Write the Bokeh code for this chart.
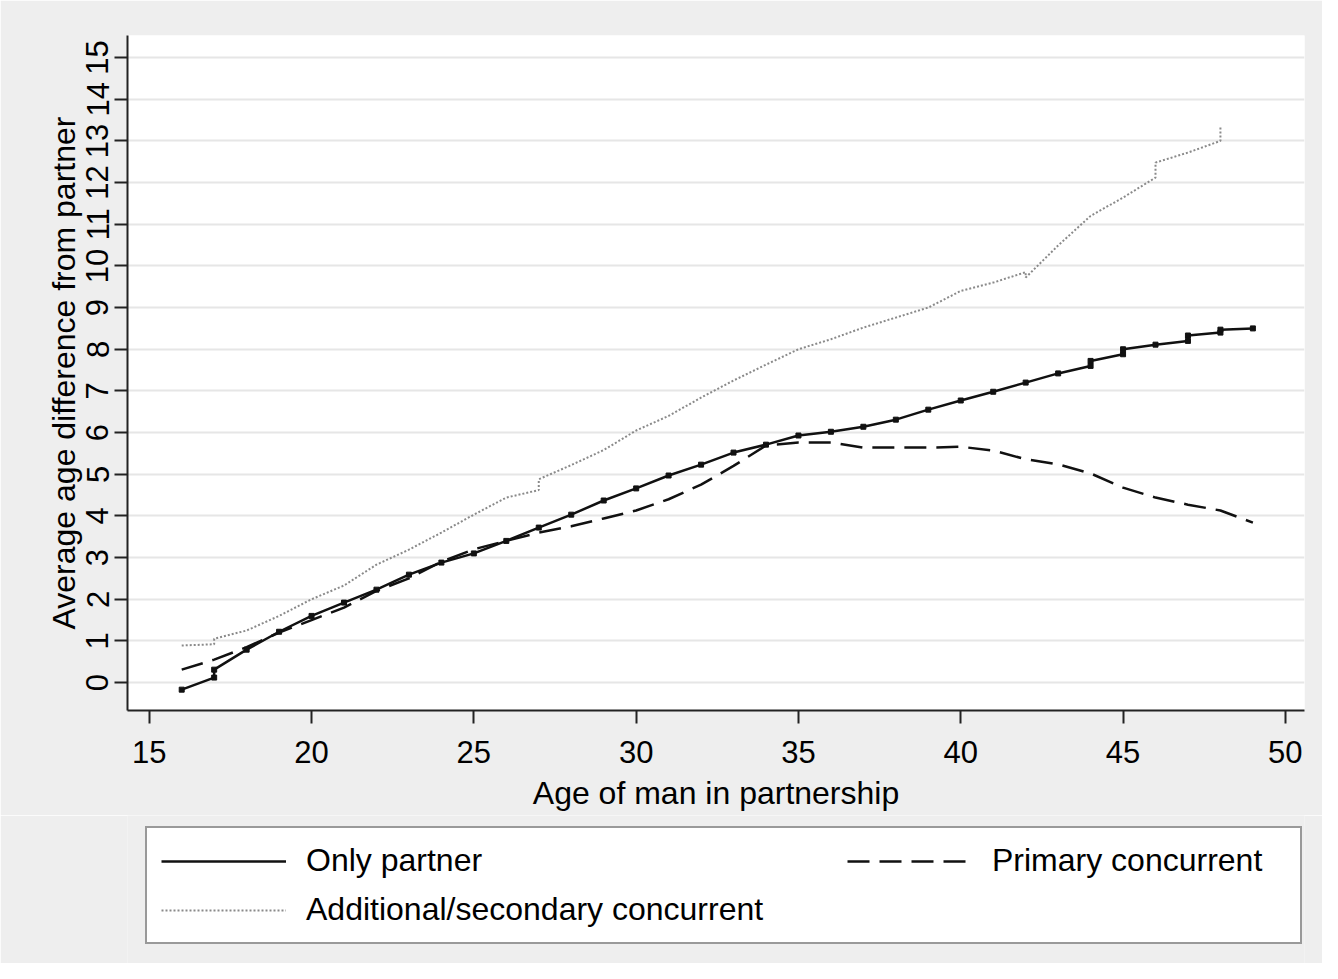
from bokeh.plotting import figure
from bokeh.layouts import column
from bokeh.models import Legend, LegendItem, FixedTicker, Range1d
from bokeh.embed import file_html
from bokeh.resources import INLINE

# ---- data ----
only_x = [16, 17, 17, 18, 19, 20, 21, 22, 23, 24, 25, 26, 27, 28, 29, 30, 31, 32, 33, 34,
          35, 36, 37, 38, 39, 40, 41, 42, 43, 44, 44, 45, 45, 46, 47, 47, 48, 48, 49]
only_y = [-0.17, 0.12, 0.31, 0.79, 1.22, 1.6, 1.92, 2.23, 2.59, 2.88, 3.1, 3.4, 3.72, 4.03,
          4.37, 4.66, 4.97, 5.23, 5.52, 5.71, 5.93, 6.02, 6.14, 6.31, 6.55, 6.77, 6.98, 7.2,
          7.42, 7.6, 7.72, 7.88, 8.0, 8.11, 8.2, 8.33, 8.4, 8.47, 8.5]

prim_x = [16, 17, 18, 19, 20, 21, 22, 23, 24, 25, 26, 27, 28, 29, 30, 31, 32, 33, 34, 35,
          36, 37, 38, 39, 40, 41, 42, 43, 44, 45, 46, 47, 48, 49]
prim_y = [0.31, 0.55, 0.85, 1.2, 1.5, 1.8, 2.2, 2.5, 2.9, 3.2, 3.4, 3.6, 3.75, 3.94, 4.13,
          4.4, 4.75, 5.2, 5.69, 5.76, 5.76, 5.64, 5.64, 5.64, 5.66, 5.57, 5.36, 5.24, 5.02,
          4.68, 4.44, 4.27, 4.13, 3.84]

sec_x = [16, 17, 17, 18, 19, 20, 21, 22, 23, 24, 25, 26, 27, 27, 28, 29, 30, 31, 32, 33,
         34, 35, 36, 37, 38, 39, 40, 41, 42, 42, 43, 44, 45, 46, 46, 47, 48, 48]
sec_y = [0.89, 0.92, 1.05, 1.25, 1.6, 2.0, 2.33, 2.83, 3.19, 3.6, 4.03, 4.44, 4.62, 4.88,
         5.22, 5.58, 6.05, 6.4, 6.84, 7.25, 7.63, 8.0, 8.24, 8.52, 8.76, 9.0, 9.4, 9.6,
         9.85, 9.72, 10.49, 11.2, 11.64, 12.12, 12.48, 12.72, 13.0, 13.37]

x_ticks = [15, 20, 25, 30, 35, 40, 45, 50]
y_ticks = list(range(0, 16))

series_labels = ["Only partner", "Primary concurrent", "Additional/secondary concurrent"]
x_title = "Age of man in partnership"
y_title = "Average age difference from partner"

FONT = "Liberation Sans"
BG = "#eeeeee"

# styles
SEC_STYLE = dict(line_color="#8a8a8a", line_width=2, line_dash="2 2")
PRIM_STYLE = dict(line_color="#111111", line_width=2.5, line_dash="22 10")
ONLY_STYLE = dict(line_color="#111111", line_width=2.5)

p = figure(width=1322, height=815, output_backend="svg", toolbar_location=None,
           x_range=Range1d(14.33, 50.59), y_range=Range1d(-0.67, 15.53),
           min_border_left=127, min_border_right=18, min_border_top=35,
           min_border_bottom=105)

p.outline_line_color = None
p.background_fill_color = "white"
p.border_fill_color = BG
p.xgrid.visible = False
p.ygrid.grid_line_color = "#e6e6e6"
p.ygrid.grid_line_width = 2
p.ygrid.ticker = FixedTicker(ticks=y_ticks)

for ax in (p.xaxis[0], p.yaxis[0]):
    ax.axis_line_color = "#222222"
    ax.axis_line_width = 2
    ax.major_tick_line_color = "#222222"
    ax.major_tick_line_width = 2
    ax.major_tick_out = 13
    ax.major_tick_in = 0
    ax.minor_tick_line_color = None
    ax.major_label_text_font = FONT
    ax.major_label_text_font_size = "31px"
    ax.major_label_text_color = "black"
    ax.axis_label_text_font = FONT
    ax.axis_label_text_font_size = "32px"
    ax.axis_label_text_font_style = "normal"
    ax.axis_label_text_color = "black"

p.xaxis.ticker = FixedTicker(ticks=x_ticks)
p.yaxis.ticker = FixedTicker(ticks=y_ticks)
p.yaxis.major_label_orientation = "vertical"
p.xaxis.axis_label = x_title
p.yaxis.axis_label = y_title
p.xaxis.major_label_standoff = 17
p.xaxis.axis_label_standoff = 9
p.yaxis.major_label_standoff = 6
p.yaxis.axis_label_standoff = 2

p.line(sec_x, sec_y, **SEC_STYLE)
p.line(prim_x, prim_y, **PRIM_STYLE)
p.line(only_x, only_y, **ONLY_STYLE)
p.scatter(only_x, only_y, marker="square", size=5, color="#111111")

# ---- legend strip (separate figure below the chart; its frame aligns with the chart's) ----
lg = figure(width=1322, height=148, output_backend="svg", toolbar_location=None,
            x_range=Range1d(0, 1), y_range=Range1d(0, 1),
            min_border_left=0, min_border_right=0, min_border_top=0, min_border_bottom=0)
lg.axis.visible = False
lg.grid.visible = False
lg.outline_line_color = None
lg.background_fill_color = BG
lg.border_fill_color = BG

# same series drawn in the strip (they fall outside its ranges, so only the keys show)
k_only = lg.line(only_x, only_y, **ONLY_STYLE)
k_prim = lg.line(prim_x, prim_y, **PRIM_STYLE)
k_sec = lg.line(sec_x, sec_y, **SEC_STYLE)

leg1 = Legend(items=[LegendItem(label=series_labels[0], renderers=[k_only]),
                     LegendItem(label=series_labels[2], renderers=[k_sec])],
              location=(18, 19), orientation="vertical",
              glyph_width=125, glyph_height=36, label_height=36,
              label_width=980, label_standoff=20, padding=14, spacing=12, margin=0,
              label_text_font=FONT, label_text_font_size="32px",
              label_text_color="black",
              border_line_color="#333333", border_line_width=2,
              background_fill_color="white", background_fill_alpha=1.0)
leg2 = Legend(items=[LegendItem(label=series_labels[1], renderers=[k_prim])],
              location=(706, 70), orientation="vertical",
              glyph_width=125, glyph_height=36, label_height=36,
              label_standoff=20, padding=14, spacing=12, margin=0,
              label_text_font=FONT, label_text_font_size="32px",
              label_text_color="black",
              border_line_alpha=0, background_fill_alpha=0)
lg.add_layout(leg1, "center")
lg.add_layout(leg2, "center")

layout = column(p, lg, spacing=0)
open("out.html", "w").write(file_html(layout, INLINE))
